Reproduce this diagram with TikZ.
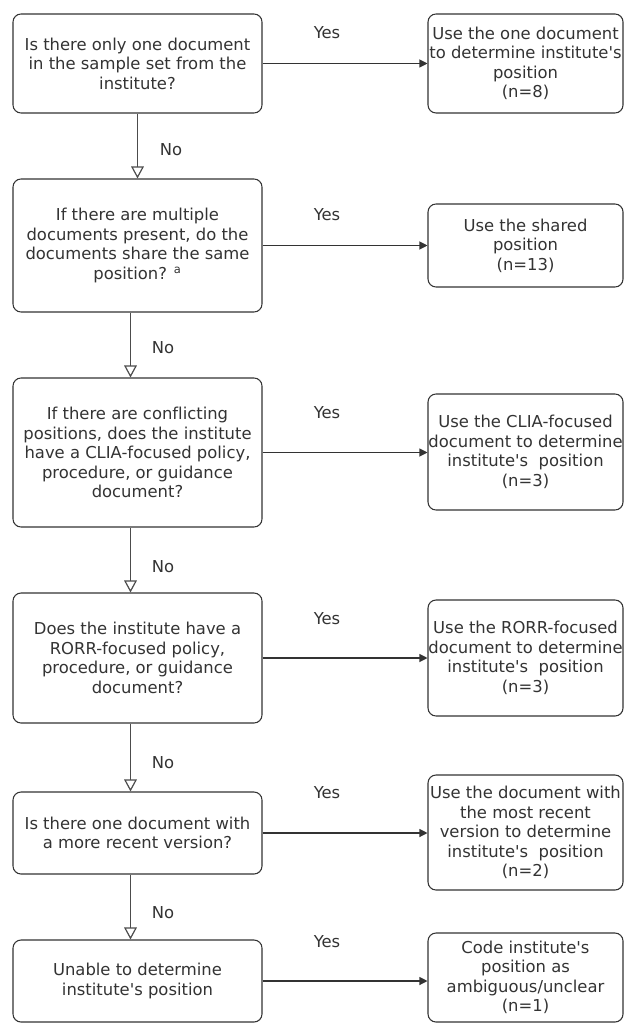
\documentclass[tikz,border=0pt]{standalone}
\usepackage{fontspec}
\setmainfont{DejaVu Sans}[Ligatures={TeXOff,CommonOff}]
\usetikzlibrary{arrows.meta}

\tikzset{
  box/.style={draw=black!80, line width=0.8pt, rounded corners=6pt, align=center,
    text=black!80, inner sep=0pt, font=\fontsize{12.3}{14.6}\selectfont},
  question/.style={box, minimum width=186.75pt},
  result/.style={box, minimum width=146.25pt},
  lbl/.style={text=black!80, font=\fontsize{12.3}{14.6}\selectfont},
  yesline/.style={draw=black!80, line width=0.8pt, -{Triangle[length=6pt,width=6pt]}},
  noline/.style={draw=black!70, line width=0.9pt, -{Triangle[open,length=9pt,width=9.5pt]}}
}

\begin{document}
\begin{tikzpicture}[x=0.75pt,y=-0.75pt]
  \useasboundingbox (0,0) rectangle (624,1023);

  % Fragen links
  \node[question, minimum height=74.25pt] (q1) at (137.5,63.5)
    {Is there only one document\\in the sample set from the\\institute?};
  \node[question, minimum height=99.75pt] (q2) at (137.5,245.5)
    {If there are multiple\\documents present, do the\\documents share the same\\position? \textsuperscript{a}};
  \node[question, minimum height=111.75pt] (q3) at (137.5,452.5)
    {If there are conflicting\\positions, does the institute\\have a CLIA-focused policy,\\procedure, or guidance\\document?};
  \node[question, minimum height=97.5pt] (q4) at (137.5,658)
    {Does the institute have a\\RORR-focused policy,\\procedure, or guidance\\document?};
  \node[question, minimum height=61.5pt] (q5) at (137.5,833)
    {Is there one document with\\a more recent version?};
  \node[question, minimum height=61.5pt] (q6) at (137.5,981)
    {Unable to determine\\institute's position};

  % Ergebnisse rechts
  \node[result, minimum height=74.25pt] (r1) at (525.5,63.5)
    {Use the one document\\to determine institute's\\position\\(n=8)};
  \node[result, minimum height=62.25pt] (r2) at (525.5,245.5)
    {Use the shared\\position\\(n=13)};
  \node[result, minimum height=87pt] (r3) at (525.5,452)
    {Use the CLIA-focused\\document to determine\\institute's \ position\\(n=3)};
  \node[result, minimum height=87pt] (r4) at (525.5,658)
    {Use the RORR-focused\\document to determine\\institute's \ position\\(n=3)};
  \node[result, minimum height=86.25pt] (r5) at (525.5,832.5)
    {Use the document with\\the most recent\\version to determine\\institute's \ position\\(n=2)};
  \node[result, minimum height=66.75pt] (r6) at (525.5,977.5)
    {Code institute's\\position as\\ambiguous/unclear\\(n=1)};

  % Ja-Pfeile
  \foreach \i in {1,...,6}
    \draw[yesline] (q\i.east) -- (q\i.east -| r\i.west);

  % Nein-Pfeile
  \draw[noline] (q1.south) -- (q2.north);
  \foreach \i/\j in {2/3,3/4,4/5,5/6}
    \draw[noline] ([xshift=-5.25pt]q\i.south) -- ([xshift=-5.25pt]q\j.north);

  % Beschriftungen
  \node[lbl] (y1) at (327,33) {Yes};
  \node[lbl] (y2) at (327,215) {Yes};
  \node[lbl] (y3) at (327,413) {Yes};
  \node[lbl] (y4) at (327,619) {Yes};
  \node[lbl] (y5) at (327,793) {Yes};
  \node[lbl] (y6) at (327,942) {Yes};
  \node[lbl] (n1) at (171,150) {No};
  \node[lbl] (n2) at (163,348) {No};
  \node[lbl] (n3) at (163,567) {No};
  \node[lbl] (n4) at (163,763) {No};
  \node[lbl] (n5) at (163,913) {No};
\end{tikzpicture}
\end{document}
